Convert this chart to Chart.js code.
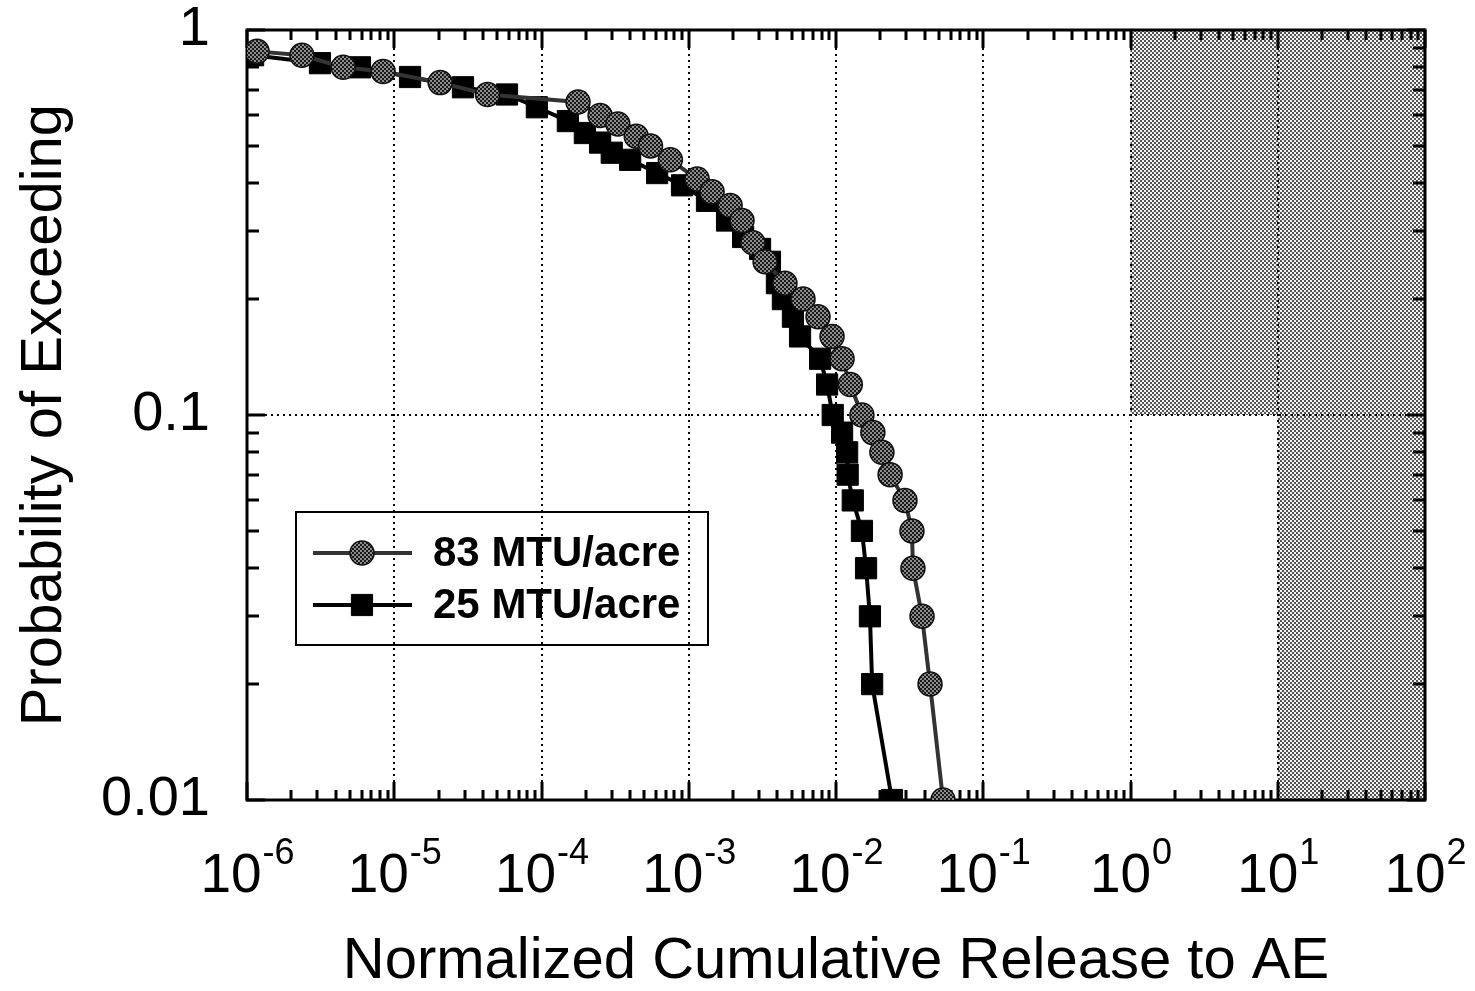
<!DOCTYPE html>
<html>
<head>
<meta charset="utf-8">
<script src="https://cdn.jsdelivr.net/npm/chart.js@4"></script>
<style>
  html, body { margin: 0; padding: 0; background: #fff; }
  #wrap { width: 1475px; height: 991px; }
</style>
</head>
<body>
<div id="wrap"><canvas id="chart"></canvas></div>
<script>
// values

const seriesLabels = ['83 MTU/acre', '25 MTU/acre'];

const release83 = [1.17e-6, 2.36e-6, 4.5e-6, 8.4e-6, 2.05e-5, 4.3e-5, 1.77e-4, 2.5e-4, 3.3e-4, 4.4e-4,
    5.5e-4, 7.5e-4, 1.14e-3, 1.44e-3, 1.91e-3, 2.3e-3, 2.73e-3, 3.3e-3, 4.5e-3, 5.97e-3,
    7.55e-3, 9.4e-3, 1.1e-2, 1.25e-2, 1.5e-2, 1.78e-2, 2.05e-2, 2.33e-2, 2.94e-2, 3.28e-2,
    3.33e-2, 3.84e-2, 4.35e-2, 5.33e-2];
const prob83 = [0.88, 0.86, 0.80, 0.78, 0.73, 0.68, 0.65, 0.60, 0.57, 0.53,
    0.50, 0.46, 0.41, 0.38, 0.35, 0.32, 0.28, 0.25, 0.22, 0.20,
    0.18, 0.16, 0.14, 0.12, 0.10, 0.09, 0.08, 0.07, 0.06, 0.05,
    0.04, 0.03, 0.02, 0.01];

const release25 = [1.10e-6, 3.13e-6, 5.85e-6, 1.28e-5, 2.93e-5, 5.83e-5, 9.3e-5, 1.51e-4, 1.97e-4, 2.5e-4,
    3.0e-4, 4.0e-4, 6.1e-4, 9.0e-4, 1.33e-3, 1.82e-3, 2.34e-3, 3.05e-3, 3.56e-3, 3.97e-3,
    4.36e-3, 5.1e-3, 5.7e-3, 7.8e-3, 8.7e-3, 9.5e-3, 1.1e-2, 1.19e-2, 1.2e-2, 1.3e-2,
    1.5e-2, 1.6e-2, 1.7e-2, 1.76e-2, 2.4e-2];
const prob25 = [0.86, 0.82, 0.80, 0.755, 0.71, 0.68, 0.63, 0.58, 0.54, 0.51,
    0.48, 0.46, 0.425, 0.395, 0.36, 0.32, 0.29, 0.27, 0.25, 0.22,
    0.20, 0.18, 0.16, 0.14, 0.12, 0.10, 0.09, 0.08, 0.07, 0.06,
    0.05, 0.04, 0.03, 0.02, 0.01];

const xTicks = [1e-6, 1e-5, 1e-4, 1e-3, 1e-2, 1e-1, 1e0, 1e1, 1e2];
const xTickExponents = ['-6', '-5', '-4', '-3', '-2', '-1', '0', '1', '2'];
const yTicks = [0.01, 0.1, 1];
const yTickLabels = ['0.01', '0.1', '1'];

// shaded limit boxes: release from..to, probability from..to
const limitRelFrom = [1, 10];
const limitRelTo = [100, 100];
const limitProbFrom = [0.1, 0.01];
const limitProbTo = [1, 0.1];

function toPoints(xs, ys) {
    return xs.map(function(x, i) { return { x: x, y: ys[i] }; });
}

// stipple fill for the shaded boxes
function makeStipple(dark, light) {
    var c = document.createElement('canvas');
    c.width = 4; c.height = 4;
    var g = c.getContext('2d');
    g.fillStyle = light; g.fillRect(0, 0, 4, 4);
    g.fillStyle = dark;
    g.fillRect(0, 0, 2, 2);
    g.fillRect(2, 2, 2, 2);
    return g.createPattern(c, 'repeat');
}
var boxFill = makeStipple('#555', '#f2f2f2');
var dotFill = makeStipple('#1a1a1a', '#8c8c8c');

var FONT = '"Liberation Sans", Arial, sans-serif';

var limitBoxes = {
    id: 'limitBoxes',
    beforeDraw: function(chart) {
        var ctx = chart.ctx, xs = chart.scales.x, ys = chart.scales.y;
        ctx.save();
        ctx.fillStyle = boxFill;
        for (var i = 0; i < limitRelFrom.length; i++) {
            var x0 = xs.getPixelForValue(limitRelFrom[i]);
            var x1 = xs.getPixelForValue(limitRelTo[i]);
            var y0 = ys.getPixelForValue(limitProbTo[i]);
            var y1 = ys.getPixelForValue(limitProbFrom[i]);
            ctx.fillRect(x0, y0, x1 - x0, y1 - y0);
        }
        ctx.restore();
    }
};

// frame plus inward ticks on all four sides
var frameTicks = {
    id: 'frameTicks',
    beforeDatasetsDraw: function(chart) {
        var ctx = chart.ctx, a = chart.chartArea;
        var xs = chart.scales.x, ys = chart.scales.y;
        ctx.save();
        ctx.strokeStyle = '#000';
        ctx.lineWidth = 3;
        ctx.beginPath();
        for (var d = -6; d <= 2; d++) {
            for (var m = 1; m <= 9; m++) {
                var v = m * Math.pow(10, d);
                if (v > 100.0001) break;
                var px = Math.round(xs.getPixelForValue(v));
                var len = m === 1 ? 18 : 10;
                ctx.moveTo(px, a.bottom); ctx.lineTo(px, a.bottom - len);
                ctx.moveTo(px, a.top); ctx.lineTo(px, a.top + len);
            }
        }
        for (var e = -2; e <= 0; e++) {
            for (var k = 1; k <= 9; k++) {
                var val = k * Math.pow(10, e);
                if (val > 1.0001) break;
                var py = Math.round(ys.getPixelForValue(val));
                var ln = k === 1 ? 18 : 12;
                ctx.moveTo(a.left, py); ctx.lineTo(a.left + ln, py);
                ctx.moveTo(a.right, py); ctx.lineTo(a.right - ln, py);
            }
        }
        ctx.stroke();
        ctx.strokeRect(a.left, a.top, a.right - a.left, a.bottom - a.top);
        ctx.restore();
    }
};

// x tick labels as 10 with raised exponent
var powerLabels = {
    id: 'powerLabels',
    afterDraw: function(chart) {
        var ctx = chart.ctx, xs = chart.scales.x, a = chart.chartArea;
        ctx.save();
        ctx.fillStyle = '#000';
        ctx.textBaseline = 'alphabetic';
        xTicks.forEach(function(v, i) {
            var px = xs.getPixelForValue(v);
            ctx.font = '55px ' + FONT;
            var wb = ctx.measureText('10').width;
            ctx.font = '36px ' + FONT;
            var we = ctx.measureText(xTickExponents[i]).width;
            var left = px - (wb + we) / 2;
            ctx.font = '55px ' + FONT;
            ctx.fillText('10', left, a.bottom + 92);
            ctx.font = '36px ' + FONT;
            ctx.fillText(xTickExponents[i], left + wb + 1, a.bottom + 64);
        });
        ctx.restore();
    }
};

// legend box sitting inside the plot
var boxLegend = {
    id: 'boxLegend',
    afterDraw: function(chart) {
        var ctx = chart.ctx;
        var bx = 296, by = 512, bw = 412, bh = 133;
        ctx.save();
        ctx.strokeStyle = '#000';
        ctx.lineWidth = 2;
        ctx.strokeRect(bx, by, bw, bh);
        ctx.font = 'bold 42px ' + FONT;
        ctx.textBaseline = 'middle';
        chart.data.datasets.forEach(function(ds, i) {
            var cy = by + 41 + i * 52;
            ctx.strokeStyle = ds.borderColor;
            ctx.lineWidth = ds.borderWidth;
            ctx.beginPath();
            ctx.moveTo(bx + 17, cy); ctx.lineTo(bx + 116, cy);
            ctx.stroke();
            ctx.fillStyle = ds.pointBackgroundColor;
            ctx.strokeStyle = ds.pointBorderColor;
            ctx.lineWidth = ds.pointBorderWidth;
            ctx.beginPath();
            if (ds.pointStyle === 'circle') {
                ctx.arc(bx + 66, cy, ds.pointRadius, 0, Math.PI * 2);
            } else {
                var s = ds.pointRadius * Math.SQRT1_2;
                ctx.rect(bx + 66 - s, cy - s, 2 * s, 2 * s);
            }
            ctx.fill();
            ctx.stroke();
            ctx.fillStyle = '#000';
            ctx.fillText(ds.label, bx + 137, cy + 1);
        });
        ctx.restore();
    }
};

var tickFont = { family: FONT, size: 56 };
var titleFont = { family: FONT, size: 58, lineHeight: 1 };

var ctx = document.getElementById('chart');
var myChart = new Chart(ctx, {
    type: 'scatter',
    data: {
        datasets: [{
            label: seriesLabels[0],
            data: toPoints(release83, prob83),
            showLine: true,
            borderColor: '#333',
            borderWidth: 4,
            pointStyle: 'circle',
            pointRadius: 12,
            pointBackgroundColor: dotFill,
            pointBorderColor: '#111',
            pointBorderWidth: 1.5,
            order: 0
        }, {
            label: seriesLabels[1],
            data: toPoints(release25, prob25),
            showLine: true,
            borderColor: '#000',
            borderWidth: 4,
            pointStyle: 'rect',
            pointRadius: 15,
            pointBackgroundColor: '#000',
            pointBorderColor: '#000',
            pointBorderWidth: 1,
            order: 1
        }]
    },
    options: {
        responsive: true,
        maintainAspectRatio: false,
        animation: false,
        layout: { padding: { top: 30, right: 50, left: 0, bottom: 0 } },
        plugins: {
            legend: { display: false },
            tooltip: { enabled: false }
        },
        scales: {
            x: {
                type: 'logarithmic',
                position: 'bottom',
                min: 1e-6,
                max: 1e2,
                afterBuildTicks: function(s) {
                    s.ticks = xTicks.map(function(v) { return { value: v }; });
                },
                afterFit: function(s) {
                    s.height = 191;
                    s.paddingLeft = 0; s.paddingRight = 0;
                },
                ticks: { display: false, autoSkip: false },
                grid: { color: '#000', lineWidth: 2, drawTicks: false },
                border: { display: false, dash: [2, 4] },
                title: {
                    display: true,
                    text: 'Normalized Cumulative Release to AE',
                    color: '#000',
                    font: titleFont,
                    padding: { top: 0, bottom: 0 }
                }
            },
            y: {
                type: 'logarithmic',
                position: 'left',
                min: 0.01,
                max: 1,
                afterBuildTicks: function(s) {
                    s.ticks = yTicks.map(function(v) { return { value: v }; });
                },
                afterFit: function(s) {
                    s.width = 247;
                    s.paddingTop = 0; s.paddingBottom = 0;
                },
                ticks: {
                    autoSkip: false,
                    padding: 37,
                    color: '#000',
                    font: tickFont,
                    callback: function(v, i) { return yTickLabels[i]; }
                },
                grid: { color: '#000', lineWidth: 2, drawTicks: false },
                border: { display: false, dash: [2, 4] },
                title: {
                    display: true,
                    text: 'Probability of Exceeding',
                    color: '#000',
                    font: titleFont,
                    padding: { top: 16, bottom: 0 }
                }
            }
        }
    },
    plugins: [limitBoxes, frameTicks, powerLabels, boxLegend]
});
</script>
</body>
</html>
